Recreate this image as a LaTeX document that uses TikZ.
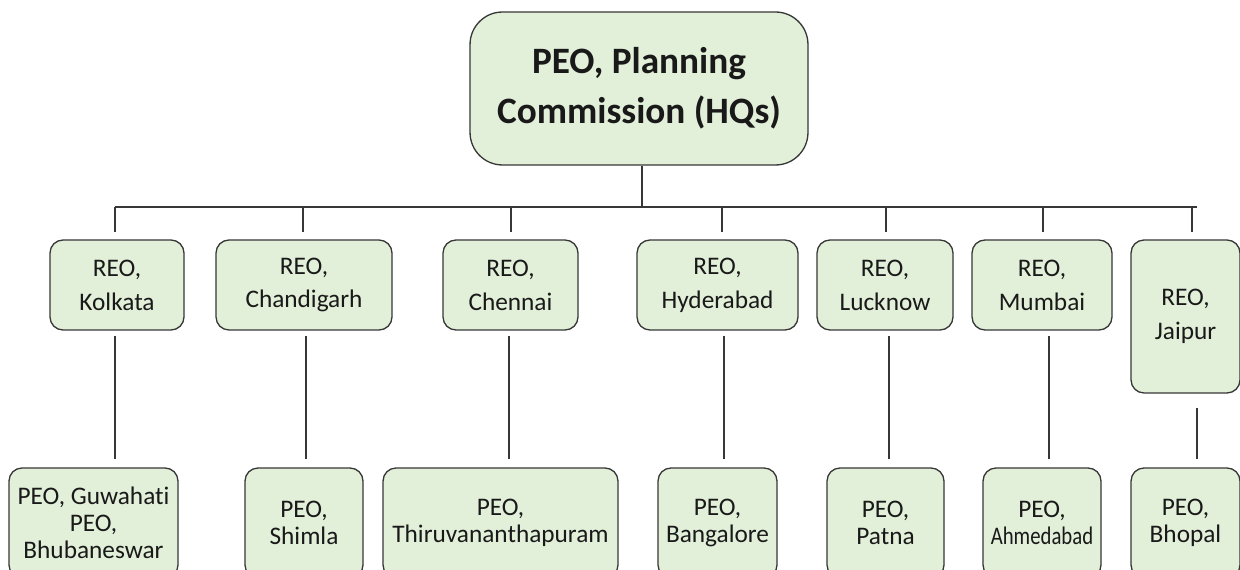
\documentclass[tikz,border=0pt]{standalone}
\usepackage{fontspec}
\usepackage{graphicx}
\setmainfont{Carlito}[Ligatures=NoCommon]
\definecolor{boxfill}{RGB}{226,239,217}
\definecolor{boxline}{RGB}{55,55,55}
\definecolor{txt}{RGB}{25,25,25}
\tikzset{
  box/.style={draw=boxline, fill=boxfill, line width=0.75pt, rounded corners=0.26cm,
    align=center, inner sep=0pt, text=txt},
  hqbox/.style={box, rounded corners=0.65cm, minimum width=6.76cm, minimum height=3.06cm,
    font=\fontsize{21.2}{28.3}\selectfont\bfseries},
  reo/.style={box, minimum height=1.8cm, font=\fontsize{14.4}{19.3}\selectfont},
  peo/.style={box, minimum height=2.2cm, font=\fontsize{14.4}{15.3}\selectfont},
  conn/.style={draw=boxline, line width=0.75pt},
}
\begin{document}
\begin{tikzpicture}[x=0.02cm, y=-0.02cm]
\useasboundingbox (0,0) rectangle (1240,570);
\clip (0,0) rectangle (1240,570);
\fill[white] (0,0) rectangle (1240,570);

% top
\node[hqbox] (hq) at (639,88.5) {PEO, Planning\\Commission (HQs)};

% REO boxes
\node[reo, minimum width=2.68cm] (k1) at (117,285) {REO,\\Kolkata};
\node[reo, minimum width=3.52cm] (k2) at (304,285) {REO,\\Chandigarh};
\node[reo, minimum width=2.70cm] (k3) at (510.5,285) {REO,\\Chennai};
\node[reo, minimum width=3.22cm] (k4) at (717.5,285) {REO,\\Hyderabad};
\node[reo, minimum width=2.72cm] (k5) at (885,285) {REO,\\Lucknow};
\node[reo, minimum width=2.80cm] (k6) at (1042,285) {REO,\\Mumbai};
\node[reo, minimum width=2.18cm, minimum height=3.06cm] (k7) at (1185.5,316.5) {REO,\\Jaipur};

% PEO boxes
\node[peo, minimum width=3.38cm] (p1) at (93.5,523) {PEO, Guwahati\\PEO,\\Bhubaneswar};
\node[peo, minimum width=2.36cm] (p2) at (304,523) {PEO,\\Shimla};
\node[peo, minimum width=4.70cm] (p3) at (500.5,523) {PEO,\\Thiruvananthapuram};
\node[peo, minimum width=2.38cm] (p4) at (717.5,523) {PEO,\\Bangalore};
\node[peo, minimum width=2.34cm] (p5) at (885.5,523) {PEO,\\Patna};
\node[peo, minimum width=2.36cm] (p6) at (1042,523) {PEO,\\\scalebox{0.82}[1]{Ahmedabad}};
\node[peo, minimum width=2.18cm] (p7) at (1185.5,523) {PEO,\\Bhopal};

% bus
\coordinate (bt) at (642,207);
\coordinate (bl) at (115,207);
\coordinate (br) at (1197,207);
\coordinate (d1) at (115,207);
\coordinate (d2) at (303,207);
\coordinate (d3) at (511,207);
\coordinate (d4) at (722,207);
\coordinate (d5) at (886,207);
\coordinate (d6) at (1043,207);
\coordinate (d7) at (1192,207);
\coordinate (l1) at (115,0);
\coordinate (l2) at (306,0);
\coordinate (l3) at (509,0);
\coordinate (l4) at (724,0);
\coordinate (l5) at (889,0);
\coordinate (l6) at (1049,0);
\coordinate (l7) at (1197,0);

\draw[conn] (hq.south -| bt) -- (bt);
\draw[conn] (bl) -- (br);
\foreach \i in {1,...,7}{
  \draw[conn, shorten >=0.14cm] (d\i) -- (d\i |- k\i.north);
}
\foreach \i in {1,...,6}{
  \draw[conn, shorten <=0.1cm, shorten >=0.17cm] (k\i.south -| l\i) -- (p\i.north -| l\i);
}
\draw[conn, shorten <=0.28cm, shorten >=0.17cm] (k7.south -| l7) -- (p7.north -| l7);
\end{tikzpicture}
\end{document}
